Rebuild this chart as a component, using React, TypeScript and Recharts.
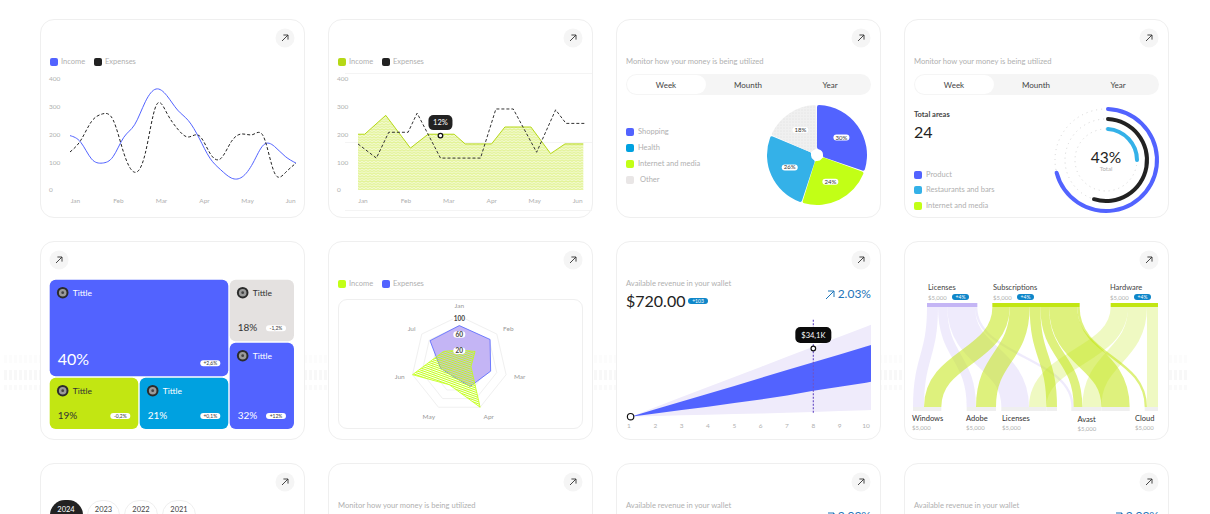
import React from 'react';
import {
  LineChart, Line, XAxis, YAxis, Area, ComposedChart, AreaChart, PieChart, Pie, Cell,
  RadialBarChart, RadialBar, PolarAngleAxis, PolarGrid, PolarRadiusAxis, RadarChart, Radar,
  Treemap, Sankey, ReferenceDot, ReferenceLine,
} from 'recharts';

const BLUE = '#5263FF';
const LIME = '#C2FF16';
const OLIVE = '#B5D816';
const CYAN = '#34B1E8';
const INK = '#222222';
const GREY = '#B0B0B0';
const FONT = 'Lato, sans-serif';

const months = ['Jan', 'Feb', 'Mar', 'Apr', 'May', 'Jun'];
const yTicks = [0, 100, 200, 300, 400];

// first card, read every quarter of a month
const curveX = [-0.125, 0.125, 0.375, 0.625, 0.875, 1.125, 1.375, 1.625, 1.875, 2.125, 2.375, 2.625, 2.875, 3.125, 3.375, 3.625, 3.875, 4.125, 4.375, 4.625, 4.875, 5.125];
const curveIncome = [196, 172, 112, 97, 120, 190, 235, 318, 364, 340, 288, 250, 187, 115, 73, 43, 47, 97, 163, 157, 121, 97];
const curveExpenses = [137, 179, 247, 274, 253, 133, 64, 133, 304, 277, 220, 191, 196, 133, 113, 175, 202, 200, 191, 62, 62, 97];

// second card
const stepIncomeX = [-0.117, 0.039, 0.529, 1.104, 1.516, 2.123, 2.379, 2.994, 3.305, 3.911, 4.37, 4.705, 5.132];
const stepIncome = [201, 201, 269, 151, 201, 201, 166, 166, 227, 227, 131, 166, 166];
const stepExpensesX = [-0.117, 0.311, 0.599, 1.05, 1.26, 1.804, 2.737, 3.095, 3.499, 4.044, 4.487, 4.728, 5.171];
const stepExpenses = [166, 115, 208, 208, 277, 115, 115, 292, 292, 136, 289, 240, 240];

// pie
const pieNames = ['Shopping', 'Internet and media', 'Health', 'Other'];
const pieValues = [30, 24, 26, 18];
const pieFills = [BLUE, LIME, CYAN, 'url(#dotsGrey)'];

// rings
const ringValues = [26, 55.5, 71.6];
const ringColors = [CYAN, INK, BLUE];

// treemap
const treeTitles = ['Tittle', 'Tittle', 'Tittle', 'Tittle', 'Tittle'];
const treeSizes = [17363, 4628, 4628, 4069, 5590];
const treePercents = ['40%', '19%', '21%', '18%', '32%'];
const treeDeltas = ['+2,6%', '-0,2%', '+0,1%', '-1,2%', '+12%'];
const treeColors = [BLUE, '#C2E612', '#00A1E0', '#E4E1E0', BLUE];
const treeInk = ['#fff', '#333', '#fff', '#333', '#fff'];

// radar
const radarMonths = ['Jan', 'Feb', 'Mar', 'Apr', 'May', 'Jun', 'Jul'];
const radarIncome = [29, 42, 25, 100, 48, 100, 42];
const radarExpenses = [80, 82, 67, 52, 29, 40, 78];

// fan
const fanX = [1.06, 2, 3, 4, 5, 6, 7, 8, 9, 10, 10.19];
const fanOuterHigh = [0, 4.7, 9.8, 14.8, 19.9, 24.9, 30, 35, 40, 45, 46];
const fanInnerHigh = [0, 3.7, 7.6, 11.5, 15.4, 19.4, 23.3, 27.2, 31.1, 35.1, 35.8];
const fanInnerLow = [0, 1.6, 3.3, 5, 6.8, 8.6, 10.6, 13, 15, 17, 17.5];
const fanOuterLow = [0, 0.4, 0.7, 1, 1.3, 1.6, 2, 2.4, 2.8, 3.2, 3.3];
const fanTicks = [1, 2, 3, 4, 5, 6, 7, 8, 9, 10];

// flow: spacer nodes keep the gaps of the original
const flowOrder = ['top0', 'Licenses', 'top1', 'Subscriptions', 'top2', 'Hardware', 'Windows', 'bot1', 'Adobe', 'bot2', 'LicensesA', 'LicensesB', 'bot3', 'Avast', 'AvastB', 'bot4', 'Cloud'];
const flowFrom = ['Licenses', 'Licenses', 'Licenses', 'Licenses', 'Subscriptions', 'Subscriptions', 'Subscriptions', 'Subscriptions', 'Subscriptions', 'Subscriptions', 'Hardware', 'Hardware', 'Hardware', 'top0', 'top1', 'top1', 'top2', 'top2', 'top2'];
const flowTo = ['Windows', 'Adobe', 'LicensesA', 'Avast', 'Windows', 'Adobe', 'LicensesB', 'Avast', 'AvastB', 'Cloud', 'LicensesA', 'Avast', 'Cloud', 'bot1', 'bot1', 'bot2', 'bot2', 'bot3', 'bot4'];
const flowValues = [33, 28, 83, 7, 52, 60, 32, 26, 85, 7, 52, 57, 33, 42, 34, 11, 5, 43, 45];

const curveData = curveX.map((x, i) => ({ x, income: curveIncome[i], expenses: curveExpenses[i] }));
const stepIncomeData = stepIncomeX.map((x, i) => ({ x, v: stepIncome[i] }));
const stepExpensesData = stepExpensesX.map((x, i) => ({ x, v: stepExpenses[i] }));
const pieData = pieNames.map((name, i) => ({ name, value: pieValues[i] }));
const ringData = ringValues.map((value, i) => ({ value, fill: ringColors[i] }));
const leaf = (i: number) => ({
  name: treeTitles[i], size: treeSizes[i], pct: treePercents[i], delta: treeDeltas[i], color: treeColors[i], ink: treeInk[i],
});
const treeData = [
  { name: 'left', children: [leaf(0), { name: 'bottom', children: [leaf(1), leaf(2)] }] },
  { name: 'right', children: [leaf(3), leaf(4)] },
];
const radarData = radarMonths.map((m, i) => ({ m, income: radarIncome[i], expenses: radarExpenses[i] }));
const fanData = fanX.map((x, i) => ({
  x, outer: [fanOuterLow[i], fanOuterHigh[i]], inner: [fanInnerLow[i], fanInnerHigh[i]],
}));
const flowData = {
  nodes: flowOrder.map((name) => ({ name })),
  links: flowFrom.map((f, i) => ({ source: flowOrder.indexOf(f), target: flowOrder.indexOf(flowTo[i]), value: flowValues[i] })),
};

const T = ({ x, y, size = 8, color = GREY, weight = 400, right, center, children }: any) => (
  <span
    style={{
      position: 'absolute',
      left: right || center ? undefined : x,
      ...(center ? { left: x, transform: 'translate(-50%,-50%)' } : { transform: 'translateY(-50%)' }),
      ...(right ? { right: 1210 - x } : {}),
      top: y + 0.5,
      fontSize: size,
      color,
      fontWeight: weight,
      lineHeight: 1,
      whiteSpace: 'nowrap',
    }}
  >
    {children}
  </span>
);

const Box = ({ x, y, w, h, bg = '#fff', border = '#EFEFEF', r = 14 }: any) => (
  <div
    style={{
      position: 'absolute', left: x, top: y, width: w, height: h, boxSizing: 'border-box',
      background: bg, border: border ? `1px solid ${border}` : 'none', borderRadius: r,
    }}
  />
);

const Arrow = ({ x, y }: { x: number; y: number }) => (
  <svg style={{ position: 'absolute', left: x - 10, top: y - 10 }} width={20} height={20}>
    <circle cx={10} cy={10} r={9.5} fill="#F5F5F5" />
    <path d="M7 13 L13 7 M8.4 7 H13 V11.6" fill="none" stroke="#333" strokeWidth={0.9} />
  </svg>
);

const Square = ({ x, y, color }: any) => (
  <div style={{ position: 'absolute', left: x + 0.5, top: y - 3.5, width: 8, height: 8, borderRadius: 2, background: color }} />
);

const LegendRow = ({ x, y, items }: any) => (
  <>
    {items.map((it: any) => (
      <React.Fragment key={it.label + it.x}>
        <Square x={x + it.x} y={y} color={it.color} />
        <T x={x + it.x + 12} y={y} size={7.5}>{it.label}</T>
      </React.Fragment>
    ))}
  </>
);

const Segments = ({ x, y, w }: any) => (
  <>
    <Box x={x} y={y} w={w} h={21} bg="#F5F5F5" border={null} r={11} />
    <Box x={x + 1} y={y + 1} w={79} h={19} border={null} r={10} />
    <T x={x + 40} y={y + 10} size={8} color="#444" center>Week</T>
    <T x={x + 122} y={y + 10} size={8} color="#444" center>Mounth</T>
    <T x={x + 204} y={y + 10} size={8} color="#444" center>Year</T>
  </>
);

const at = (left: number, top: number): React.CSSProperties => ({ position: 'absolute', left, top });

const StartTick = ({ y, payload }: any) => (
  <text x={9} y={y} dy={2.3} fontSize={6.5} fill={GREY} textAnchor="start">{payload.value}</text>
);

const Pill = ({ cx, cy }: any) => (
  <g>
    <rect x={cx - 12} y={cy - 20.5} width={24} height={15} rx={5} fill={INK} />
    <text x={cx} y={cy - 10.4} fontSize={7.5} fill="#fff" textAnchor="middle">12%</text>
    <circle cx={cx} cy={cy} r={2.3} fill="#fff" stroke="#111" strokeWidth={1.3} />
  </g>
);

const PieTag = ({ cx, cy, midAngle, value }: any) => {
  const a = (-midAngle * Math.PI) / 180;
  const px = cx + 30 * Math.cos(a);
  const py = cy + 30 * Math.sin(a);
  return (
    <g>
      <rect x={px - 8} y={py - 3} width={16} height={6} rx={3} fill="#fff" />
      <text x={px} y={py + 2} fontSize={6} fill="#333" textAnchor="middle">{value}%</text>
    </g>
  );
};

const TreeNode = (props: any) => {
  const { x, y, width, height, children, pct, delta, color, ink, name, depth } = props;
  if (children || depth === 0 || !pct) return null;
  const big = pct === '40%';
  const left = x + 0.7;
  const top = y + 0.7;
  const w = width - 1.4;
  const h = height - 1.4;
  const bottom = top + h;
  const right = left + w;
  return (
    <g>
      <rect x={left} y={top} width={w} height={h} rx={6} fill={color} stroke="none" />
      <circle cx={left + 13} cy={top + 13} r={5.8} fill="#2b2b2b" />
      <circle cx={left + 13} cy={top + 13} r={3.8} fill="#9a9a9a" />
      <circle cx={left + 13} cy={top + 13} r={1.4} fill="#444" />
      <text x={left + 23} y={top + 16} fontSize={8.5} fill={ink} stroke="none">{name}</text>
      <text x={left + 8} y={bottom - (big ? 11.5 : 10)} fontSize={big ? 16 : 10} fill={ink} stroke="none">{pct}</text>
      <rect x={right - 28} y={bottom - 16} width={20} height={6} rx={3} fill="#fff" stroke="none" />
      <text x={right - 18} y={bottom - 11} fontSize={5} fill="#333" textAnchor="middle" stroke="none">{delta}</text>
    </g>
  );
};

const RadiusTick = ({ x, y, payload }: any) => {
  if (![20, 60, 100].includes(payload.value)) return null;
  const shift = payload.value === 20 ? -4 : payload.value === 100 ? 3 : -1;
  return (
    <g>
      <rect x={x - 6} y={y + shift - 3} width={12} height={6.5} rx={3.2} fill="#fff" />
      <text x={x} y={y + shift + 2.4} fontSize={6.5} fontWeight={700} fill="#444" textAnchor="middle">{payload.value}</text>
    </g>
  );
};

const FanTick = ({ x, y, payload }: any) => (
  <text x={x} y={y + 3} fontSize={6.5} fill={GREY} textAnchor="middle">{payload.value}</text>
);

const FanDot = ({ cx, cy }: any) => (
  <g>
    <rect x={cx - 18} y={cy - 21.5} width={36} height={16} rx={5} fill="#0B0B0B" />
    <text x={cx} y={cy - 10.7} fontSize={7.5} fill="#fff" textAnchor="middle">$34,1K</text>
    <circle cx={cx} cy={cy} r={2.3} fill="#fff" stroke="#111" strokeWidth={1.2} />
  </g>
);

const Ring = ({ cx, cy }: any) => <circle cx={cx} cy={cy} r={3.2} fill="#fff" stroke="#111" strokeWidth={1.2} />;

const linkTone = (name: string) => {
  if (name === 'Licenses') return { stroke: '#C4B5F5', opacity: 0.27 };
  if (name === 'Subscriptions') return { stroke: '#C2E612', opacity: 0.55 };
  if (name === 'Hardware') return { stroke: '#C2E612', opacity: 0.26 };
  return { stroke: 'none', opacity: 0 };
};

const FlowLink = (props: any) => {
  const { sourceX, targetX, sourceY, targetY, sourceControlX, targetControlX, linkWidth, payload } = props;
  const tone = linkTone(payload.source.name);
  return (
    <path
      d={`M${sourceX},${sourceY} C${sourceControlX},${sourceY} ${targetControlX},${targetY} ${targetX},${targetY}`}
      fill="none" strokeWidth={linkWidth} {...tone}
    />
  );
};

const FlowNode = ({ x, y, width, height, payload }: any) => {
  const name = payload.name;
  if (/^(top|bot)/.test(name)) return <g />;
  if (name === 'Licenses') return <rect x={x} y={y} width={width} height={height} fill="#C4B5F5" />;
  if (name === 'Subscriptions' || name === 'Hardware') return <rect x={x} y={y} width={width} height={height} fill="#C2E612" />;
  return <rect x={x} y={y} width={width} height={height} fill="#EFEFEF" />;
};

const FlowHead = ({ x, y, title }: any) => (
  <>
    <T x={x} y={y} size={7.5} color="#444">{title}</T>
    <T x={x} y={y + 10} size={6} color={GREY}>$5,000</T>
    <div style={{ ...at(x + 24, y + 7), width: 17, height: 6, borderRadius: 3, background: '#0E86C9' }} />
    <T x={x + 32.5} y={y + 9.5} size={5} color="#fff" center>+4%</T>
  </>
);

const FlowFoot = ({ x, y, title }: any) => (
  <>
    <T x={x} y={y} size={7.5} color="#333">{title}</T>
    <T x={x} y={y + 9.5} size={6} color={GREY}>$5,000</T>
  </>
);

const Defs = () => (
  <defs>
    <pattern id="zigLime" width={4} height={2.6} patternUnits="userSpaceOnUse">
      <rect width={4} height={2.6} fill="#F3FAD2" />
      <path d="M0 2 L2 0.6 L4 2" fill="none" stroke="#CFEA50" strokeWidth={0.7} />
    </pattern>
    <pattern id="dotsGrey" width={3} height={3} patternUnits="userSpaceOnUse">
      <rect width={3} height={3} fill="#F0F0F0" />
      <circle cx={1} cy={1} r={0.6} fill="#DEDEDE" />
    </pattern>
    <pattern id="hatchLime" width={2} height={2} patternUnits="userSpaceOnUse" patternTransform="rotate(20)">
      <rect width={2} height={1} fill={LIME} />
    </pattern>
  </defs>
);

const RevenueHead = ({ x, y }: any) => (
  <T x={x} y={y} size={7.6}>Available revenue in your wallet</T>
);

const Gain = ({ x, y }: any) => (
  <>
    <svg style={at(x - 46, y - 3.5)} width={10} height={10}>
      <path d="M1 9 L9 1 M3 1 H9 V7" fill="none" stroke="#1D74B8" strokeWidth={1} />
    </svg>
    <T x={x} y={y} size={12} color="#1D74B8" right>2.03%</T>
  </>
);

const Band = ({ y, h, tone }: any) => (
  <div style={{ ...at(4, y), width: 1184, height: h, background: `repeating-linear-gradient(90deg,${tone} 0 3px,#fff 3px 5px)` }} />
);

export default function App() {
  return (
    <div style={{ position: 'absolute', left: 0, top: 0, width: 1210, height: 514, overflow: 'hidden', background: '#fff', fontFamily: FONT }}>
      {/* faint bands behind the second row */}
      <Band y={355} h={8} tone="#FCFCFC" />
      <Band y={370} h={10} tone="#F8F8F8" />
      <Band y={385} h={5} tone="#FAFAFA" />

      {[40, 328, 616, 904].map((x) => (
        <React.Fragment key={x}>
          <Box x={x} y={19} w={265} h={199} />
          <Box x={x} y={241} w={265} h={199} />
          <Box x={x} y={463} w={265} h={199} />
        </React.Fragment>
      ))}
      {[285, 573, 861, 1149].map((x) => <Arrow key={x} x={x} y={38} />)}
      <Arrow x={59} y={260} />
      {[573, 861, 1149].map((x) => <Arrow key={x} x={x} y={260} />)}
      {[285, 573, 861, 1149].map((x) => <Arrow key={x} x={x} y={482} />)}

      {/* smooth lines */}
      <LegendRow x={49} y={61} items={[{ x: 0, color: BLUE, label: 'Income' }, { x: 44, color: INK, label: 'Expenses' }]} />
      <div style={at(40, 19)}>
        <LineChart width={264} height={198} data={curveData} margin={{ top: 60, right: 8, bottom: 7, left: 10 }}>
          <XAxis dataKey="x" type="number" domain={[-0.125, 5.125]} ticks={[0, 1, 2, 3, 4, 5]} interval={0}
            tickFormatter={(v) => months[v]} axisLine={false} tickLine={false} height={20} tick={{ fontSize: 6.5, fill: GREY }} />
          <YAxis domain={[0, 400]} ticks={yTicks} width={20} axisLine={false} tickLine={false} tick={<StartTick />} />
          <Line type="natural" dataKey="income" stroke={BLUE} strokeWidth={1} dot={false} isAnimationActive={false} />
          <Line type="natural" dataKey="expenses" stroke={INK} strokeWidth={1} strokeDasharray="3 2" dot={false} isAnimationActive={false} />
        </LineChart>
      </div>

      {/* hatched area */}
      <LegendRow x={337} y={61} items={[{ x: 0, color: OLIVE, label: 'Income' }, { x: 44, color: INK, label: 'Expenses' }]} />
      <div style={{ ...at(345, 73), width: 247, height: 1, background: '#F4F4F4' }} />
      <div style={{ ...at(345, 142), width: 247, height: 1, background: '#F4F4F4' }} />
      <div style={{ ...at(345, 210), width: 247, height: 1, background: '#F4F4F4' }} />
      <div style={at(328, 19)}>
        <ComposedChart width={264} height={198} margin={{ top: 60, right: 7, bottom: 7, left: 10 }}>
          <Defs />
          <XAxis dataKey="x" type="number" domain={[-0.117, 5.17]} ticks={[0, 1, 2, 3, 4, 5]} interval={0}
            tickFormatter={(v) => months[v]} axisLine={false} tickLine={false} height={20} tick={{ fontSize: 6.5, fill: GREY }} />
          <YAxis domain={[0, 400]} ticks={yTicks} width={20} axisLine={false} tickLine={false} tick={<StartTick />} />
          <Area data={stepIncomeData} type="linear" dataKey="v" stroke={OLIVE} strokeWidth={1} fill="url(#zigLime)" fillOpacity={1} isAnimationActive={false} />
          <Line data={stepExpensesData} type="linear" dataKey="v" stroke="#333" strokeWidth={1} strokeDasharray="3 2" dot={false} isAnimationActive={false} />
          <ReferenceDot x={1.804} y={196} shape={<Pill />} />
        </ComposedChart>
      </div>

      {/* pie */}
      <T x={626} y={61} size={7.6}>Monitor how your money is being utilized</T>
      <Segments x={626} y={74} w={245} />
      <Square x={625.5} y={131} color={BLUE} />
      <T x={638} y={131} size={7.5}>Shopping</T>
      <Square x={625.5} y={147} color="#00A1E0" />
      <T x={638} y={147} size={7.5}>Health</T>
      <Square x={625.5} y={163} color={LIME} />
      <T x={638} y={163} size={7.5}>Internet and media</T>
      <Square x={625.5} y={179} color="#E9E6E6" />
      <T x={640} y={179} size={7.5}>Other</T>
      <div style={at(762, 100)}>
        <PieChart width={110} height={110} margin={{ top: 0, right: 0, bottom: 0, left: 0 }}>
          <Defs />
          <Pie data={pieData} dataKey="value" cx={55} cy={55} outerRadius={50} innerRadius={6} startAngle={90} endAngle={-270}
            paddingAngle={1} cornerRadius={2} stroke="none" label={<PieTag />} labelLine={false} isAnimationActive={false}>
            {pieFills.map((f) => <Cell key={f} fill={f} />)}
          </Pie>
        </PieChart>
      </div>

      {/* rings */}
      <T x={914} y={61} size={7.6}>Monitor how your money is being utilized</T>
      <Segments x={914} y={74} w={245} />
      <T x={914} y={114} size={7.5} color="#444" weight={700}>Total areas</T>
      <T x={914} y={131} size={16} color={INK}>24</T>
      <Square x={913.5} y={174} color={BLUE} />
      <T x={926} y={174} size={7.5}>Product</T>
      <Square x={913.5} y={189} color={CYAN} />
      <T x={926} y={189} size={7.5}>Restaurants and bars</T>
      <Square x={913.5} y={205} color={LIME} />
      <T x={926} y={205} size={7.5}>Internet and media</T>
      <div style={at(1046, 100)}>
        <RadialBarChart width={120} height={120} cx={60} cy={60} innerRadius={26} outerRadius={56} barSize={4}
          data={ringData} startAngle={90} endAngle={-270}>
          <PolarAngleAxis type="number" domain={[0, 100]} tick={false} axisLine={false} />
          <PolarGrid gridType="circle" radialLines={false} polarRadius={[31, 41, 51]} stroke="#D5D5D5" strokeDasharray="1 4" />
          <RadialBar dataKey="value" cornerRadius={2} isAnimationActive={false} />
        </RadialBarChart>
      </div>
      <T x={1106} y={157} size={15.5} color={INK} center>43%</T>
      <T x={1106} y={168} size={6} center>Total</T>

      {/* treemap */}
      <div style={at(49.3, 279.3)}>
        <Treemap width={245.7} height={150.7} data={treeData} dataKey="size" aspectRatio={2} type="flat"
          isAnimationActive={false} content={<TreeNode />} />
      </div>

      {/* radar */}
      <LegendRow x={337} y={283} items={[{ x: 0, color: LIME, label: 'Income' }, { x: 44, color: BLUE, label: 'Expenses' }]} />
      <Box x={338} y={299} w={245} h={130} r={9} />
      <div style={at(338, 299)}>
        <RadarChart width={245} height={130} cx={121.3} cy={65} outerRadius={48} data={radarData}>
          <Defs />
          <PolarGrid gridType="polygon" radialLines={false} stroke="#F0F0F0" />
          <PolarAngleAxis dataKey="m" tick={{ fontSize: 6.5, fill: '#999' }} tickLine={false} />
          <PolarRadiusAxis angle={90} domain={[0, 100]} tickCount={6} axisLine={false} tick={<RadiusTick />} />
          <Radar dataKey="expenses" stroke={BLUE} strokeWidth={0.8} fill="#C4B5F5" fillOpacity={1} isAnimationActive={false} />
          <Radar dataKey="income" stroke={LIME} strokeWidth={0.8} fill="url(#hatchLime)" fillOpacity={1} isAnimationActive={false} />
        </RadarChart>
      </div>

      {/* fan */}
      <RevenueHead x={626} y={283} />
      <T x={626} y={300} size={16} color={INK}>$720.00</T>
      <div style={{ ...at(688, 298), width: 20, height: 6, borderRadius: 3, background: '#0E86C9' }} />
      <T x={698} y={300.5} size={5} color="#fff" center>+103</T>
      <Gain x={871} y={293} />
      <div style={at(619, 300)}>
        <AreaChart width={262} height={135} data={fanData} margin={{ top: 16.7, right: 10, bottom: 4.3, left: 10 }}>
          <XAxis dataKey="x" type="number" domain={[1, 10.19]} ticks={fanTicks} interval={0} axisLine={false} tickLine={false} height={14} tick={<FanTick />} />
          <YAxis hide type="number" domain={[0, 50]} />
          <Area type="linear" dataKey="outer" stroke="none" fill="#EFEBFB" fillOpacity={1} isAnimationActive={false} />
          <Area type="linear" dataKey="inner" stroke="none" fill={BLUE} fillOpacity={1} isAnimationActive={false} />
          <ReferenceLine segment={[{ x: 8, y: 2 }, { x: 8, y: 49 }]} stroke="#6F55C8" strokeWidth={1.2} strokeDasharray="2 1.5" />
          <ReferenceDot x={1.06} y={0} shape={<Ring />} />
          <ReferenceDot x={8} y={34.1} shape={<FanDot />} />
        </AreaChart>
      </div>

      {/* flow, a horizontal sankey mirrored across the diagonal */}
      <FlowHead x={928} y={287} title="Licenses" />
      <FlowHead x={993} y={287} title="Subscriptions" />
      <FlowHead x={1110} y={287} title="Hardware" />
      <div style={{ ...at(913.3, 303), width: 108, height: 245, transformOrigin: '0 0', transform: 'matrix(0,1,1,0,0,0)' }}>
        <Sankey width={108} height={245} data={flowData} nodeWidth={4} nodePadding={0} iterations={0} sort={false}
          margin={{ top: 0, right: 0, bottom: 0, left: 0 }} link={<FlowLink />} node={<FlowNode />} />
      </div>
      <FlowFoot x={912} y={418} title="Windows" />
      <FlowFoot x={966} y={418} title="Adobe" />
      <FlowFoot x={1002} y={418} title="Licenses" />
      <FlowFoot x={1077.5} y={419} title="Avast" />
      <FlowFoot x={1135} y={418} title="Cloud" />

      {/* third row, cut by the page */}
      <div style={{ ...at(50, 500), width: 33, height: 30, borderRadius: 15, background: INK }} />
      <T x={66} y={509} size={7.5} color="#fff" center>2024</T>
      {[[87, 33, '2023'], [124, 34, '2022'], [162, 34, '2021']].map(([x, w, label]: any) => (
        <React.Fragment key={label}>
          <Box x={x} y={500} w={w} h={30} r={15} />
          <T x={x + w / 2} y={509} size={7.5} color="#444" center>{label}</T>
        </React.Fragment>
      ))}
      <T x={338} y={505} size={7.6}>Monitor how your money is being utilized</T>
      <RevenueHead x={626} y={505} />
      <RevenueHead x={914} y={505} />
      <Gain x={871} y={515} />
      <Gain x={1159} y={515} />
    </div>
  );
}
